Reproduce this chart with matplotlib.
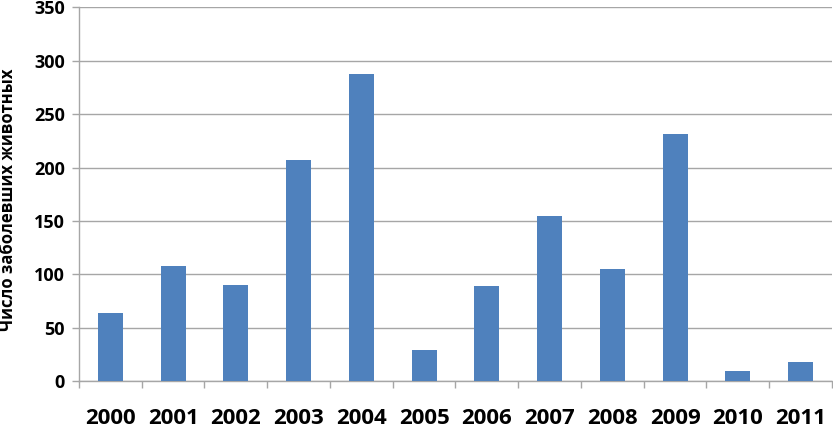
import matplotlib
matplotlib.use("Agg")
import matplotlib.pyplot as plt
import numpy as np

years = ["2000", "2001", "2002", "2003", "2004", "2005",
         "2006", "2007", "2008", "2009", "2010", "2011"]
cases = [64, 108, 90, 207, 288, 29, 89, 155, 105, 231, 10, 18]
y_ticks = [0, 50, 100, 150, 200, 250, 300, 350]
y_label = "Число заболевших животных"

plt.rcParams['font.family'] = ['Open Sans', 'DejaVu Sans']

fig = plt.figure(figsize=(8.33, 4.28), dpi=100)
ax = fig.add_axes([0.0948, 0.109, 0.904, 0.874])

x = np.arange(len(years))
ax.bar(x, cases, width=0.40, color="#4F81BD", zorder=3)

ax.set_xlim(-0.5, len(years) - 0.5)
ax.set_ylim(0, 350)
ax.set_yticks(y_ticks)
ax.set_yticklabels([str(v) for v in y_ticks], fontsize=13, fontweight="bold")
ax.set_xticks(x)
ax.set_xticklabels(years, fontsize=16, fontweight="bold")
ax.set_xticks(np.arange(-0.5, len(years)), minor=True)

grid_c = "#A6A6A6"
ax.yaxis.grid(True, color=grid_c, linewidth=1.0, zorder=0)
ax.xaxis.grid(False)
for s in ["top", "right"]:
    ax.spines[s].set_visible(False)
for s in ["left", "bottom"]:
    ax.spines[s].set_color(grid_c)
    ax.spines[s].set_linewidth(1.0)

ax.tick_params(axis="x", which="major", length=0, pad=19, colors="black")
ax.tick_params(axis="x", which="minor", length=5, width=1.0, color=grid_c, direction="out")
ax.tick_params(axis="y", which="major", length=5, width=1.0, color=grid_c, pad=5)

ax.set_ylabel(y_label, fontsize=12, fontweight="bold")
ax.yaxis.set_label_coords(-0.082, 0.485)

fig.savefig("out.png", dpi=100)
